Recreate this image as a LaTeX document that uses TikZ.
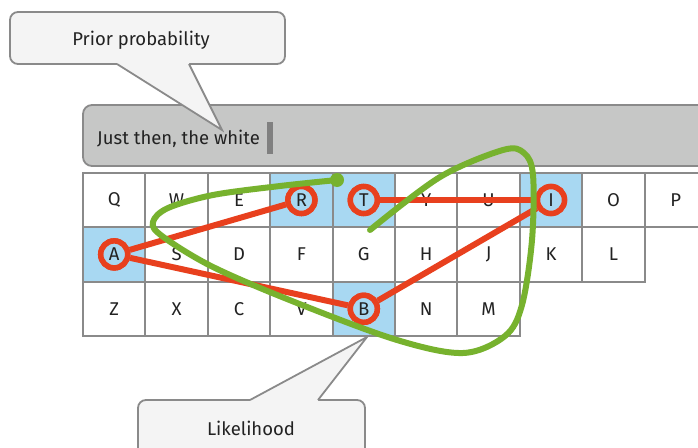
\documentclass[tikz,border=0pt]{standalone}
\usepackage{fontspec}
\setmainfont{Fira Sans}
\definecolor{keyblue}{HTML}{A8D8F2}
\definecolor{keyline}{HTML}{8A8A8A}
\definecolor{keytext}{HTML}{222222}
\definecolor{tapred}{HTML}{E8401E}
\definecolor{swipegreen}{HTML}{77B22E}
\definecolor{barfill}{HTML}{C6C7C6}
\definecolor{calloutfill}{HTML}{F4F4F4}
\definecolor{cursorgray}{HTML}{808080}

\begin{document}
\begin{tikzpicture}[
  x=1pt, y=-1pt,
  font=\fontsize{18.5}{22}\selectfont,
  key/.style={draw=keyline, line width=2pt, fill=white, text=keytext,
    minimum width=62.4pt, minimum height=54.4pt, inner sep=0pt},
  hitkey/.style={key, fill=keyblue},
  hit/.style={circle, draw=tapred, line width=5.5pt, fill=keyblue, text=keytext,
    minimum size=27pt, inner sep=0pt},
  tap/.style={draw=tapred, line width=6pt},
  swipe/.style={draw=swipegreen, line width=6pt, line cap=round},
  callout/.style={draw=keyline, line width=1.8pt, fill=calloutfill},
  label/.style={text=keytext}]
  \clip (0,0) rectangle (698,447);

  % text field
  \draw[draw=keyline, line width=1.8pt, fill=barfill, rounded corners=9pt]
    (83,105) rectangle (730,166);
  \node[label, anchor=base west, inner sep=0pt] (typed) at (97,144) {Just then, the white};
  \fill[cursorgray] (267,122) rectangle (273,154);

  % keyboard
  \foreach \k/\s [count=\i from 0] in {Q/key,W/key,E/key,R/hitkey,T/hitkey,
      Y/key,U/key,I/hitkey,O/key,P/key}
    \node[\s] (key-\k) at (114.2+62.4*\i,200) {\k};
  \foreach \k/\s [count=\i from 0] in {A/hitkey,S/key,D/key,F/key,G/key,
      H/key,J/key,K/key,L/key}
    \node[\s] (key-\k) at (114.2+62.4*\i,254.4) {\k};
  \foreach \k/\s [count=\i from 0] in {Z/key,X/key,C/key,V/key,B/hitkey,
      N/key,M/key}
    \node[\s] (key-\k) at (114.2+62.4*\i,308.8) {\k};

  % taps
  \foreach \k in {R,T,I,A,B}
    \node[hit] (hit-\k) at (key-\k) {\k};
  \draw[tap] (hit-A) -- (hit-R);
  \draw[tap] (hit-A) -- (hit-B);
  \draw[tap] (hit-B) -- (hit-I);
  \draw[tap] (hit-T) -- (hit-I);
  \foreach \k in {R,T,I,A,B}
    \node[hit] at (key-\k) {\k};

  % swipe
  \draw[swipe] plot[smooth, tension=0.55] coordinates {
    (337,180) (280,186) (213,195) (168,208) (153,222) (162,236) (213,267)
    (297,303) (397,340) (463,353) (505,336) (522,305) (532,240) (533,175)
    (524,153) (503,150) (440,177) (370,230)};
  \fill[swipegreen] (337,180) circle (7pt);

  % prior callout
  \draw[callout, rounded corners=8pt] (10,12) rectangle (285,64);
  \fill[calloutfill] (117,60) -- (117,64) -- (222,130) -- (189,64) -- (189,60) -- cycle;
  \draw[keyline, line width=1.8pt] (117,64) -- (222,130) -- (189,64);
  \node[label] (prior) at (141,40) {Prior probability};

  % likelihood callout
  \draw[callout, rounded corners=8pt] (138,400) rectangle (365,470);
  \fill[calloutfill] (250,404) -- (250,400) -- (367,337) -- (318,400) -- (318,404) -- cycle;
  \draw[keyline, line width=1.8pt] (250,400) -- (367,337) -- (318,400);
  \node[label] (likelihood) at (251,428) {Likelihood};
\end{tikzpicture}
\end{document}
